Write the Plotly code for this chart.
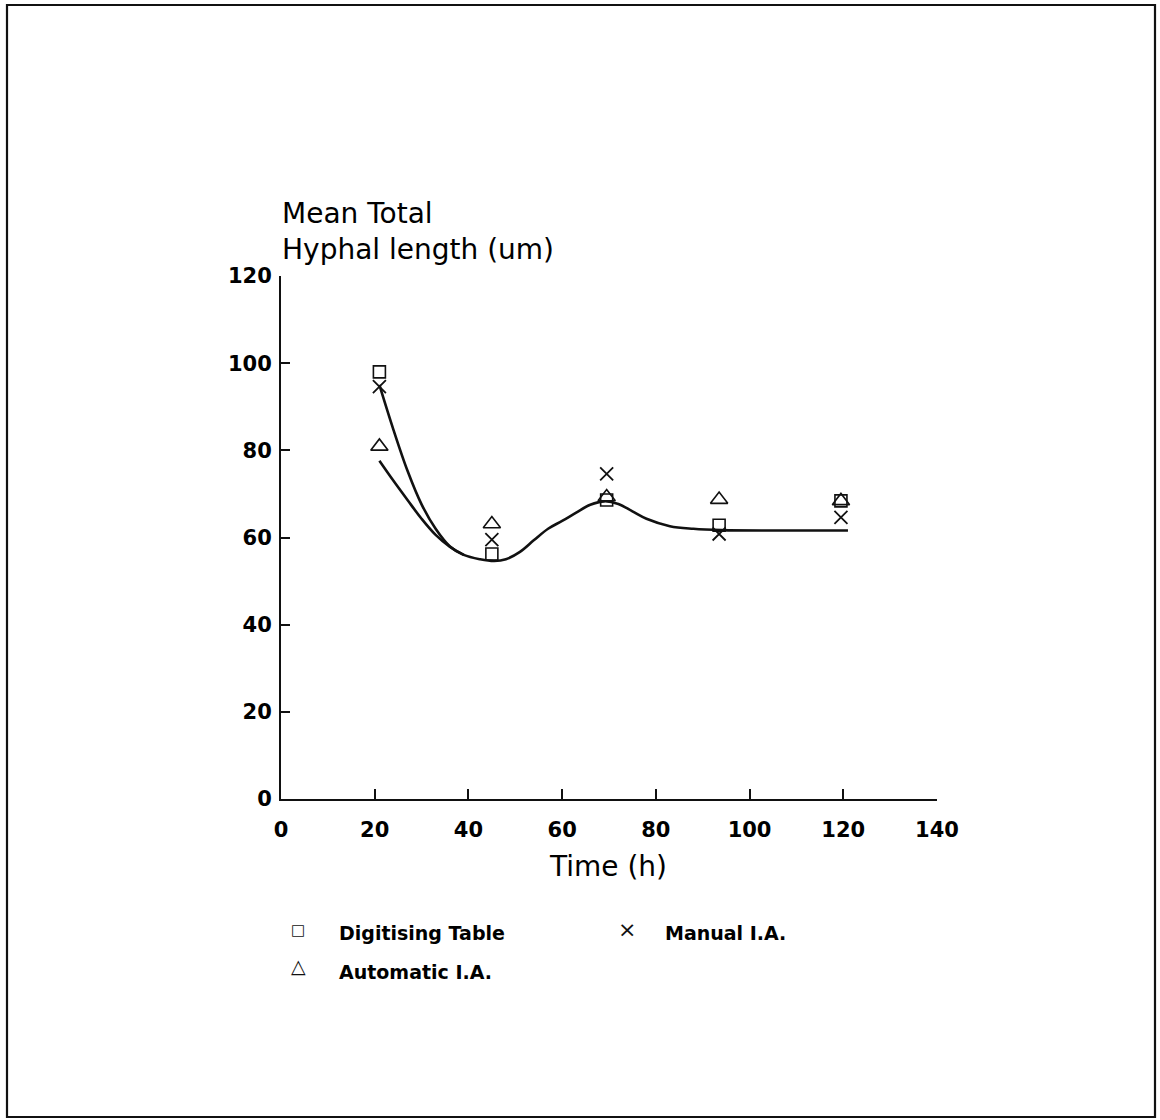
import plotly.graph_objects as go

# Sampling times (h) and mean total hyphal length (um) per measuring method
time_h = [21, 45, 69.5, 93.5, 119.5]
digitising_table = [98.0, 56.2, 68.6, 62.8, 68.4]
manual_ia = [94.6, 59.5, 74.6, 60.8, 64.6]
automatic_ia = [80.9, 63.1, 69.3, 68.7, 68.4]

# Fitted curve through the manual I.A. data
fit_main_x = [21, 24, 27, 30, 33, 36, 39, 42.5, 45.5, 48, 51, 54, 57, 60, 63,
              66, 69, 72, 75, 78, 83, 88, 94, 105, 121]
fit_main_y = [95, 84.7, 75.3, 67.6, 62.0, 58.0, 56.0, 55.0, 54.6, 55.0, 56.7,
              59.4, 62.0, 63.8, 65.7, 67.5, 68.3, 67.7, 66.0, 64.3, 62.6, 62.0,
              61.7, 61.6, 61.6]

# Fitted curve through the automatic I.A. data (joins the main fit near 39 h)
fit_auto_x = [21, 24, 27, 30, 33, 36, 39]
fit_auto_y = [77.6, 73.0, 68.6, 64.3, 60.6, 57.9, 56.0]

x_ticks = [0, 20, 40, 60, 80, 100, 120, 140]
y_ticks = [0, 20, 40, 60, 80, 100, 120]

W, H = 1160, 1120
ML, MR, MT, MB = 281, 223, 276, 321
PW, PH = W - ML - MR, H - MT - MB


def px(x):
    return (x - ML) / PW


def py(y):
    return (H - MB - y) / PH


TICK_FONT = dict(family="DejaVu Sans", size=21, color="black", weight="bold")
TITLE_FONT = dict(family="DejaVu Sans", size=28, color="black")
LEG_FONT = dict(family="DejaVu Sans", size=19, color="black", weight="bold")
INK = "#111111"

fig = go.Figure()

for fx, fy in ((fit_main_x, fit_main_y), (fit_auto_x, fit_auto_y)):
    fig.add_trace(go.Scatter(x=fx, y=fy, mode="lines",
                             line=dict(color=INK, width=2.6, shape="spline", smoothing=1.0),
                             hoverinfo="skip", showlegend=False))

fig.add_trace(go.Scatter(x=time_h, y=digitising_table, mode="markers", name="Digitising Table",
                         marker=dict(symbol="square-open", size=12, color=INK,
                                     line=dict(width=1.6, color=INK)), showlegend=False))
fig.add_trace(go.Scatter(x=time_h, y=manual_ia, mode="markers", name="Manual I.A.",
                         marker=dict(symbol="x-thin-open", size=13, color=INK,
                                     line=dict(width=1.8, color=INK)), showlegend=False))
fig.add_trace(go.Scatter(x=time_h, y=automatic_ia, mode="markers", name="Automatic I.A.",
                         marker=dict(symbol="triangle-up-open", size=15, color=INK,
                                     line=dict(width=1.6, color=INK)), showlegend=False))

fig.update_xaxes(range=[0, 140], tickvals=x_ticks, ticks="inside", ticklen=10, tickwidth=1.5,
                 tickcolor=INK, showline=True, linecolor=INK, linewidth=2, showgrid=False,
                 zeroline=False, tickfont=TICK_FONT, ticklabelstandoff=11)
fig.update_yaxes(range=[0, 120], tickvals=y_ticks, ticks="inside", ticklen=9, tickwidth=1.5,
                 tickcolor=INK, showline=True, linecolor=INK, linewidth=2, showgrid=False,
                 zeroline=False, tickfont=TICK_FONT, ticklabelstandoff=3)

annotations = [
    dict(text="Mean Total<br>Hyphal length (um)", x=px(280), y=py(231), xanchor="left",
         yanchor="middle", align="left", font=TITLE_FONT),
    dict(text="Time (h)", x=px(608), y=py(866), xanchor="center", yanchor="middle",
         font=TITLE_FONT),
    dict(text="□", x=px(298), y=py(930), xanchor="center", yanchor="middle",
         font=dict(family="DejaVu Sans", size=15, color=INK)),
    dict(text="Digitising Table", x=px(337), y=py(933), xanchor="left", yanchor="middle",
         font=LEG_FONT),
    dict(text="×", x=px(627), y=py(929), xanchor="center", yanchor="middle",
         font=dict(family="DejaVu Sans", size=22, color=INK)),
    dict(text="Manual I.A.", x=px(663), y=py(933), xanchor="left", yanchor="middle",
         font=LEG_FONT),
    dict(text="△", x=px(298), y=py(966), xanchor="center", yanchor="middle",
         font=dict(family="DejaVu Sans", size=19, color=INK)),
    dict(text="Automatic I.A.", x=px(337), y=py(972), xanchor="left", yanchor="middle",
         font=LEG_FONT),
]
for a in annotations:
    a.update(xref="paper", yref="paper", showarrow=False)

fig.update_layout(
    width=W, height=H,
    margin=dict(l=ML, r=MR, t=MT, b=MB),
    paper_bgcolor="white", plot_bgcolor="white",
    annotations=annotations,
    shapes=[dict(type="rect", xref="paper", yref="paper",
                 x0=px(7), x1=px(1155), y0=py(1117), y1=py(5),
                 line=dict(color=INK, width=2.2))],
)

fig.write_html("out.html")
